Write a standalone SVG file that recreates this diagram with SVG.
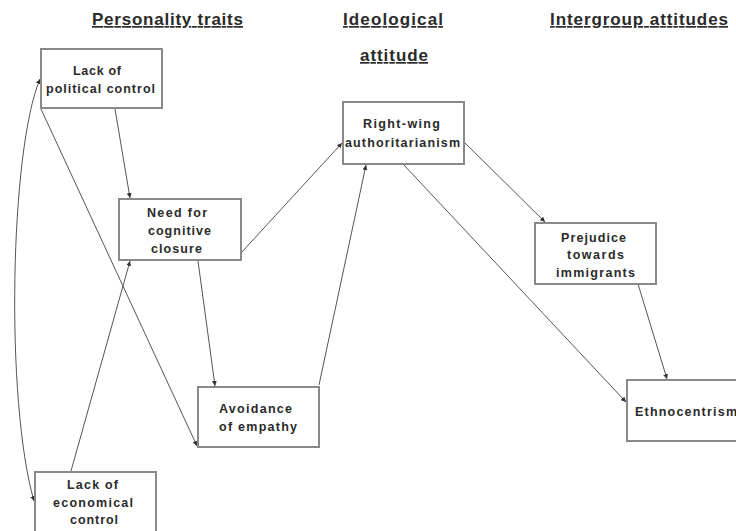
<svg xmlns="http://www.w3.org/2000/svg" width="736" height="531" viewBox="0 0 736 531">
<defs>
<style>
.box{fill:#fff;stroke:#8a8a8a;stroke-width:2}
.lbl{font-family:"Liberation Sans",Arial,sans-serif;font-weight:bold;font-size:12.5px;fill:#2a2a2a}
.hdr{font-family:"Liberation Sans",Arial,sans-serif;font-weight:bold;font-size:17px;fill:#2a2a2a;text-decoration:underline}
.con{fill:none;stroke:#555;stroke-width:1}
</style>
<marker id="ah" viewBox="0 0 10 10" refX="10" refY="5" markerWidth="5" markerHeight="5" orient="auto-start-reverse" markerUnits="userSpaceOnUse">
<path d="M0,0 L10,5 L0,10 z" fill="#333"/>
</marker>
</defs>
<rect width="736" height="531" fill="#fff"/>
<g id="headers">
<text class="hdr" x="92" y="25" textLength="151">Personality traits</text>
<text class="hdr" x="343" y="25" textLength="100">Ideological</text>
<text class="hdr" x="360" y="61" textLength="68">attitude</text>
<text class="hdr" x="550" y="25" textLength="178">Intergroup attitudes</text>
</g>
<g id="connectors">
<line class="con" x1="115" y1="109" x2="130" y2="198" marker-end="url(#ah)"/>
<line class="con" x1="41" y1="109" x2="197" y2="446" marker-end="url(#ah)"/>
<path class="con" d="M40,79 C10,150 5,400 34,501" marker-start="url(#ah)" marker-end="url(#ah)"/>
<line class="con" x1="71" y1="471" x2="130" y2="261" marker-end="url(#ah)"/>
<line class="con" x1="198" y1="261" x2="215" y2="386" marker-end="url(#ah)"/>
<line class="con" x1="241" y1="253" x2="342" y2="143" marker-end="url(#ah)"/>
<line class="con" x1="319" y1="385" x2="366" y2="165" marker-end="url(#ah)"/>
<line class="con" x1="464" y1="142" x2="545" y2="222" marker-end="url(#ah)"/>
<line class="con" x1="403" y1="164" x2="626" y2="402" marker-end="url(#ah)"/>
<line class="con" x1="638" y1="284" x2="667" y2="379" marker-end="url(#ah)"/>
</g>
<g id="political">
<rect class="box" x="41" y="49" width="121" height="59"/>
<text class="lbl" x="73" y="75" textLength="48">Lack of</text>
<text class="lbl" x="46" y="93" textLength="109">political control</text>
</g>
<g id="closure">
<rect class="box" x="119" y="199" width="122" height="61"/>
<text class="lbl" x="147" y="217" textLength="60">Need for</text>
<text class="lbl" x="148" y="235" textLength="63">cognitive</text>
<text class="lbl" x="151" y="253" textLength="51">closure</text>
</g>
<g id="empathy">
<rect class="box" x="198" y="387" width="121" height="60"/>
<text class="lbl" x="219" y="413" textLength="73">Avoidance</text>
<text class="lbl" x="219" y="431" textLength="78">of empathy</text>
</g>
<g id="economical">
<rect class="box" x="35" y="472" width="121" height="60"/>
<text class="lbl" x="67" y="489" textLength="51">Lack of</text>
<text class="lbl" x="53" y="507" textLength="80">economical</text>
<text class="lbl" x="70" y="524" textLength="48">control</text>
</g>
<g id="rwa">
<rect class="box" x="343" y="102" width="121" height="62"/>
<text class="lbl" x="363" y="128" textLength="77">Right-wing</text>
<text class="lbl" x="345" y="147" textLength="115">authoritarianism</text>
</g>
<g id="prejudice">
<rect class="box" x="535" y="223" width="121" height="61"/>
<text class="lbl" x="561" y="242" textLength="65">Prejudice</text>
<text class="lbl" x="567" y="259" textLength="57">towards</text>
<text class="lbl" x="556" y="277" textLength="79">immigrants</text>
</g>
<g id="ethno">
<rect class="box" x="627" y="380" width="121" height="61"/>
<text class="lbl" x="635" y="416" textLength="102">Ethnocentrism</text>
</g>
</svg>
